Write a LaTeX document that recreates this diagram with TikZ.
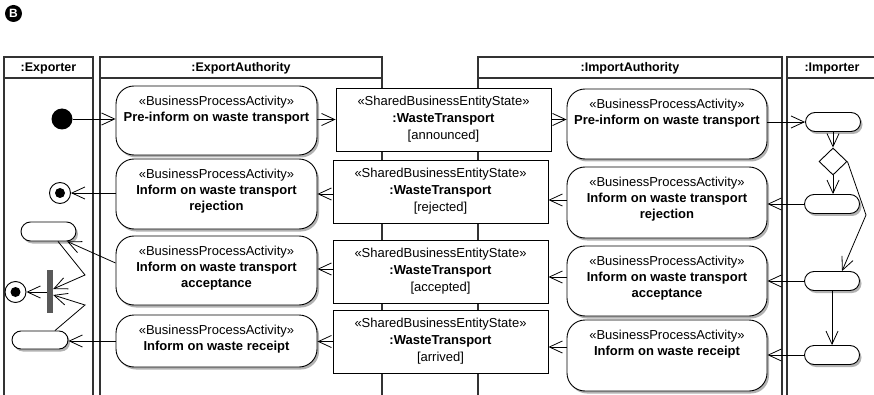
\documentclass[tikz,border=0pt]{standalone}
\usepackage{fontspec}
\setmainfont{Liberation Sans}
\usetikzlibrary{arrows.meta,shapes.geometric,shapes.misc,shadows}

\begin{document}
\begin{tikzpicture}[x=1pt,y=-1pt,
  font=\fontsize{13}{16}\selectfont,
  lane/.style={draw=black!80, line width=1.2pt},
  lanehead/.style={font=\fontsize{12.5}{15}\selectfont\bfseries, inner sep=0pt},
  shade/.style={drop shadow={shadow xshift=2pt, shadow yshift=-2.5pt, fill=black!30, opacity=1}},
  act/.style={draw, line width=0.9pt, fill=white, rounded corners=18pt,
    minimum width=201pt, inner sep=0pt, shade},
  acttext/.style={anchor=north, yshift=-10.5pt, inner sep=0pt, align=center},
  state/.style={draw, line width=0.9pt, fill=white, minimum width=215pt,
    minimum height=63pt, inner sep=0pt, align=center,
    font=\fontsize{13}{17}\selectfont},
  pill/.style={rounded rectangle, draw, line width=0.9pt, fill=white,
    minimum width=55pt, minimum height=19pt, inner sep=0pt, shade},
  initial/.style={circle, fill=black, minimum size=21pt, inner sep=0pt},
  final/.style={circle, draw, line width=0.9pt, fill=white, minimum size=21pt, inner sep=0pt},
  decision/.style={diamond, draw, line width=0.9pt, fill=white, aspect=1,
    minimum width=28pt, minimum height=27pt, inner sep=0pt},
  forkbar/.style={rectangle, fill=black!65, minimum width=6pt, minimum height=43pt, inner sep=0pt},
  flow/.style={line width=0.8pt, -{Straight Barb[length=13pt,width=12pt,line width=0.8pt]}},
]
\useasboundingbox (0,0) rectangle (874,395);

% panel mark
\node[circle, fill=black, text=white, minimum size=17pt, inner sep=0pt,
  font=\fontsize{12}{12}\selectfont\bfseries] (mark) at (13.5,13.5) {B};

% swimlanes
\draw[lane] (4,395) -- (4,57) -- (93,57) -- (93,395);
\draw[lane] (4,78) -- (93,78);
\draw[lane] (100,395) -- (100,57) -- (382,57) -- (382,395);
\draw[lane] (100,78) -- (382,78);
\draw[lane] (478,395) -- (478,57) -- (782,57) -- (782,395);
\draw[lane] (478,78) -- (782,78);
\draw[lane] (874,57) -- (787,57) -- (787,395);
\draw[lane] (787,78) -- (874,78);
\node[lanehead] (hexp) at (48.5,68) {:Exporter};
\node[lanehead] (hexa) at (241,68) {:ExportAuthority};
\node[lanehead] (hima) at (630,68) {:ImportAuthority};
\node[lanehead] (himp) at (832,68) {:Importer};

% export authority activities
\node[act, minimum height=69pt, label={[acttext]north:{«BusinessProcessActivity»\\\bfseries Pre-inform on waste transport}}] (a1) at (216.5,120.5) {};
\node[act, minimum height=70pt, label={[acttext]north:{«BusinessProcessActivity»\\\bfseries Inform on waste transport\\\bfseries rejection}}] (a2) at (216.5,194) {};
\node[act, minimum height=69pt, label={[acttext]north:{«BusinessProcessActivity»\\\bfseries Inform on waste transport\\\bfseries acceptance}}] (a3) at (216.5,270.5) {};
\node[act, minimum height=52pt, label={[acttext]north:{«BusinessProcessActivity»\\\bfseries Inform on waste receipt}}] (a4) at (216.5,341) {};

% import authority activities
\node[act, minimum width=200pt, minimum height=70pt, label={[acttext]north:{«BusinessProcessActivity»\\\bfseries Pre-inform on waste transport}}] (b1) at (667,124) {};
\node[act, minimum width=200pt, minimum height=71pt, label={[acttext]north:{«BusinessProcessActivity»\\\bfseries Inform on waste transport\\\bfseries rejection}}] (b2) at (667,202.5) {};
\node[act, minimum width=200pt, minimum height=70pt, label={[acttext]north:{«BusinessProcessActivity»\\\bfseries Inform on waste transport\\\bfseries acceptance}}] (b3) at (667,281) {};
\node[act, minimum width=200pt, minimum height=71pt, label={[acttext]north:{«BusinessProcessActivity»\\\bfseries Inform on waste receipt}}] (b4) at (667,355.5) {};

% shared business entity states
\node[state] (s1) at (443.5,119.5) {«SharedBusinessEntityState»\\\textbf{:WasteTransport}\\{[announced]}};
\node[state] (s2) at (440.5,191.5) {«SharedBusinessEntityState»\\\textbf{:WasteTransport}\\{[rejected]}};
\node[state] (s3) at (440.5,271.5) {«SharedBusinessEntityState»\\\textbf{:WasteTransport}\\{[accepted]}};
\node[state] (s4) at (440.5,341.5) {«SharedBusinessEntityState»\\\textbf{:WasteTransport}\\{[arrived]}};

% exporter lane
\node[initial] (init) at (62,119) {};
\node[final] (f1) at (60,193) {};
\fill (f1.center) circle (5pt);
\node[pill] (e1) at (48.5,231.5) {};
\node[forkbar] (bar) at (50,291.5) {};
\node[final] (f2) at (15.5,292) {};
\fill (f2.center) circle (5pt);
\node[pill, minimum width=56pt, minimum height=18pt] (e2) at (40,340) {};
\coordinate (k1) at (85,275);
\coordinate (k2) at (85,305);

% importer lane
\node[pill] (p1) at (833,122) {};
\node[decision] (d) at (833,161.5) {};
\node[pill] (p2) at (832,204) {};
\node[pill] (p3) at (832,281) {};
\node[pill] (p4) at (832,355) {};
\coordinate (k3) at (866,215);

% row 1
\draw[flow] (init) -- (init -| a1.west);
\draw[flow] (a1.east |- s1.west) -- (s1.west);
\draw[flow] (s1.east) -- (s1.east -| b1.west);
\draw[flow] (b1.east |- p1.west) -- (p1.west);

% row 2
\draw[flow] (p2.west) -- (p2.west -| b2.east);
\draw[flow] ([yshift=2.5pt]b2.west) -- ([yshift=2.5pt]b2.west -| s2.east);
\draw[flow] (s2.west |- a2.east) -- (a2.east);
\draw[flow] (a2.west |- f1.east) -- (f1.east);

% row 3
\draw[flow] (p3.west) -- (p3.west -| b3.east);
\draw[flow] ([yshift=4pt]b3.west) -- ([yshift=4pt]b3.west -| s3.east);
\draw[flow] ([yshift=2.5pt]s3.west) -- ([yshift=2.5pt]s3.west -| a3.east);
\draw[flow] ([yshift=7.5pt]a3.west) -- (e1.-28);

% row 4
\draw[flow] (p4.west) -- (p4.west -| b4.east);
\draw[flow] ([yshift=8.5pt]b4.west) -- ([yshift=8.5pt]b4.west -| s4.east);
\draw[flow] (s4.west) -- (s4.west -| a4.east);
\draw[flow] (a4.west) -- (a4.west -| e2.east);

% join in the exporter lane
\draw[flow] ([xshift=9.5pt]e1.south) -- (k1) -- ([yshift=2.5pt]bar.east);
\draw[flow] ([xshift=15pt]e2.north) -- (k2) -- ([yshift=-3.5pt]bar.east);
\draw[flow] (bar.west |- f2.east) -- (f2.east);

% importer control flow
\draw[flow] (p1.south) -- (d.north);
\draw[flow] (d.south) -- (d.south |- p2.north);
\draw[flow] (d.east) -- (k3) -- ([xshift=10pt]p3.north);
\draw[flow] (p3.south) -- (p4.north);
\end{tikzpicture}
\end{document}
